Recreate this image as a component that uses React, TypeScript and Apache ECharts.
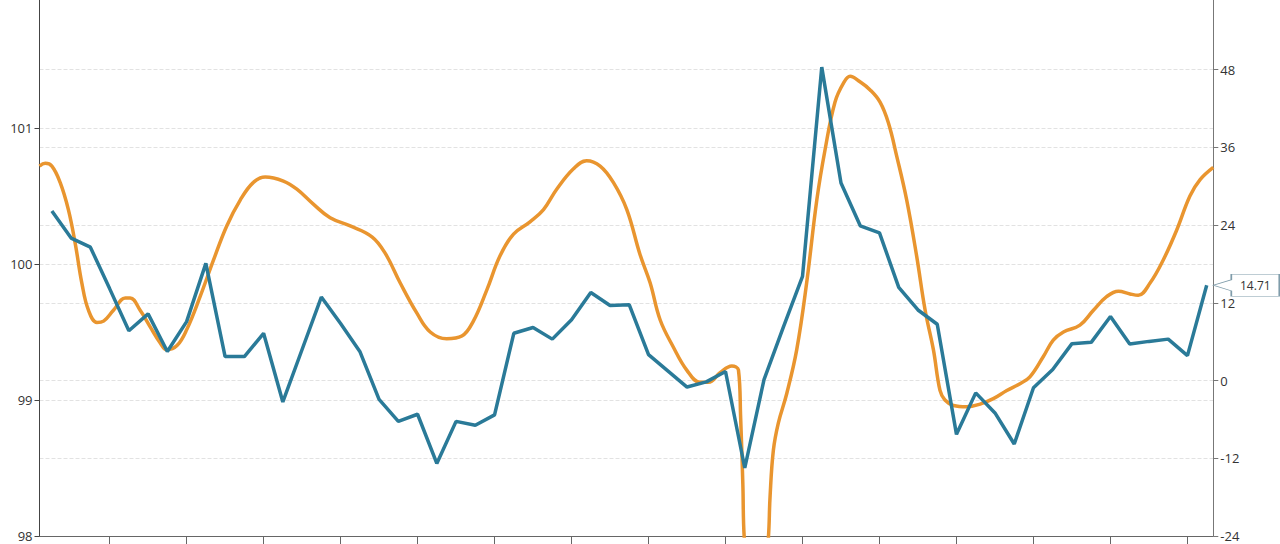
import { useEffect, useRef } from "react";
import * as echarts from "echarts";

// weekly series, right axis (one point every 7 days, day 0 = first point)
const blueValues = [
  26.2, 22.0, 20.6, 14.2, 7.7, 10.3, 4.5, 9.1, 18.1, 3.7,
  3.7, 7.3, -3.3, 4.8, 12.9, 8.8, 4.5, -2.9, -6.3, -5.2,
  -12.8, -6.3, -6.9, -5.3, 7.3, 8.2, 6.4, 9.4, 13.6, 11.6,
  11.7, 4.0, 1.5, -1.0, -0.2, 1.4, -13.5, 0.15, 8.2, 16.1,
  48.4, 30.5, 23.9, 22.8, 14.4, 10.9, 8.7, -8.3, -1.9, -5.0,
  -9.8, -1.1, 1.7, 5.7, 5.9, 9.9, 5.65, 6.05, 6.4, 3.85,
  14.71,
];

// smooth series, left axis (day positions and values)
const orangeDays = [
  -4.5, -2.4, 0, 3.0, 6.0, 8.5, 10.9, 13.3, 16.4, 18.8,
  22.4, 26.7, 28.5, 32.1, 35.7, 39.4, 41.8, 45.5, 49.1, 53.9,
  58.8, 63.6, 68.5, 73.3, 77.6, 84.2, 89.1, 95.1, 101.2, 108.5,
  116.4, 121.2, 126.7, 132.7, 137.6, 143.6, 149.1, 153.3, 158.2, 163.0,
  167.9, 173.9, 178.8, 183.6, 189.7, 194.5, 199.4, 204.2, 209.1, 213.9,
  217.6, 221.2, 226.0, 230.9, 235.7, 238.8, 243.0, 247.3, 249.7, 250.5,
  251.3, 251.8, 256.1, 260.6, 261.2, 262.4, 264.2, 267.3, 270.9, 274.5,
  278.2, 281.2, 284.8, 287.9, 290.3, 293.9, 297.6, 301.2, 304.2, 307.3,
  310.9, 314.5, 317.6, 320.6, 323.0, 324.8, 327.9, 332.7, 337.6, 342.4,
  347.3, 352.1, 355.7, 360.6, 364.2, 367.9, 373.9, 378.8, 383.6, 387.9,
  392.1, 395.1, 399.4, 404.2, 409.1, 413.9, 417.6, 422.4,
];
const orangeValues = [
  100.72, 100.74, 100.72, 100.6, 100.4, 100.15, 99.86, 99.66, 99.57, 99.58,
  99.66, 99.75, 99.75, 99.66, 99.54, 99.42, 99.37, 99.4, 99.52, 99.76,
  100.03, 100.28, 100.47, 100.6, 100.64, 100.61, 100.55, 100.44, 100.34, 100.28,
  100.2, 100.08, 99.86, 99.64, 99.5, 99.45, 99.47, 99.58, 99.81, 100.06,
  100.22, 100.31, 100.4, 100.55, 100.7, 100.76, 100.72, 100.6, 100.4, 100.07,
  99.86, 99.59, 99.39, 99.22, 99.13, 99.13, 99.2, 99.25, 99.22, 98.87,
  98.38, 97.99, 96.8, 97.99, 98.29, 98.63, 98.83, 99.05, 99.37, 99.86,
  100.47, 100.84, 101.19, 101.33, 101.38, 101.34, 101.28, 101.19, 101.04, 100.79,
  100.47, 100.06, 99.66, 99.37, 99.07, 99.0, 98.96, 98.95, 98.97, 99.01,
  99.07, 99.12, 99.17, 99.32, 99.44, 99.5, 99.55, 99.66, 99.76, 99.8,
  99.78, 99.77, 99.86, 100.03, 100.25, 100.5, 100.62, 100.71,
];

// x ticks every four weeks
const xTicks = [21, 49, 77, 105, 133, 161, 189, 217, 245, 273, 301, 329, 357, 385, 413];
const xMin = -4.5;
const xMax = 422.4;

const BLUE = "#2a7a98";
const ORANGE = "#e9952f";
const FONT = "Open Sans";

export default function App() {
  const ref = useRef<HTMLDivElement>(null);

  useEffect(() => {
    if (!ref.current) return;
    const chart = echarts.init(ref.current, undefined, { renderer: "svg" });

    const lastValue = blueValues[blueValues.length - 1];

    chart.setOption({
      animation: false,
      backgroundColor: "#fff",
      grid: {
        left: 39.5,
        right: 66.7,
        top: -8,
        bottom: 8,
        containLabel: false,
        outerBoundsMode: "none",
      },
      xAxis: {
        type: "value",
        min: xMin,
        max: xMax,
        axisLine: { show: true, onZero: false, lineStyle: { color: "#666", width: 1 } },
        axisTick: { show: true, length: 8, customValues: xTicks, lineStyle: { color: "#666" } },
        axisLabel: { show: false },
        splitLine: { show: false },
      },
      yAxis: [
        {
          type: "value",
          position: "left",
          min: 98,
          max: 102,
          interval: 1,
          axisLine: { show: true, onZero: false, lineStyle: { color: "#444", width: 1 } },
          axisTick: { show: true, length: 5, lineStyle: { color: "#444" } },
          axisLabel: { color: "#333", fontSize: 13, fontFamily: FONT, margin: 7, showMaxLabel: false },
          splitLine: { show: true, lineStyle: { color: "#e2e2e2", type: "dashed", width: 1 } },
        },
        {
          type: "value",
          position: "right",
          min: -24,
          max: 60,
          interval: 12,
          axisLine: { show: true, onZero: false, lineStyle: { color: "#777", width: 1 } },
          axisTick: { show: true, length: 5, lineStyle: { color: "#777" } },
          axisLabel: { color: "#333", fontSize: 13, fontFamily: FONT, margin: 7, showMaxLabel: false },
          splitLine: { show: true, lineStyle: { color: "#e2e2e2", type: "dashed", width: 1 } },
        },
      ],
      series: [
        {
          type: "line",
          yAxisIndex: 0,
          smooth: 0.4,
          showSymbol: false,
          clip: true,
          lineStyle: { color: ORANGE, width: 3.5 },
          data: orangeDays.map((d, i) => [d, orangeValues[i]]),
        },
        {
          type: "line",
          yAxisIndex: 1,
          showSymbol: false,
          clip: true,
          lineStyle: { color: BLUE, width: 3.5 },
          data: blueValues.map((v, i) => [i * 7, v]),
          markPoint: {
            silent: true,
            symbol: "path://M0,11 L18,5.5 L18,0 L66,0 L66,22 L18,22 L18,16.5 Z",
            symbolSize: [66, 22],
            symbolOffset: [33, 0],
            itemStyle: { color: "#fff", borderColor: "#7f9caa", borderWidth: 1 },
            label: {
              show: true,
              position: "inside",
              offset: [9, 0],
              color: "#333",
              fontSize: 12,
              fontFamily: FONT,
              formatter: (p: any) => Number(p.value).toFixed(2),
            },
            data: [{ coord: [xMax, lastValue], value: lastValue }],
          },
        },
      ],
    } as any);

    return () => {
      chart.dispose();
    };
  }, []);

  return (
    <div
      ref={ref}
      style={{ position: "fixed", left: 0, top: 0, width: 1280, height: 544 }}
    />
  );
}
